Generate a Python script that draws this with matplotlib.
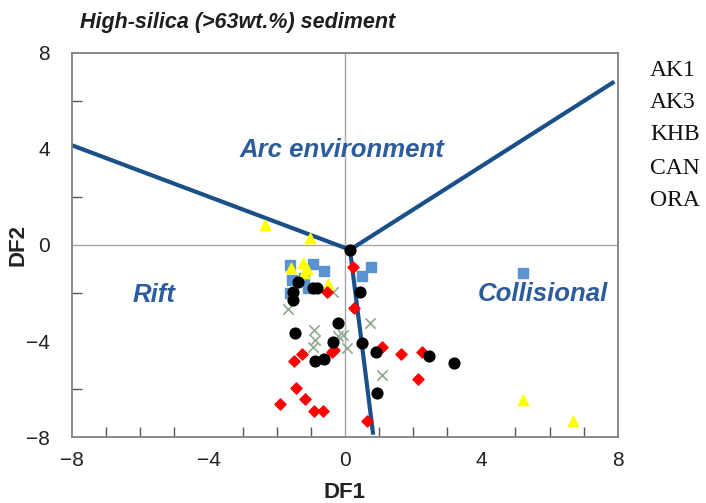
import matplotlib.pyplot as plt
from matplotlib import font_manager
from matplotlib.ticker import MultipleLocator

# discriminant function scores, one pair of lists per sample group
circle_x = [0.15, -1.37, -1.52, -1.52, -0.93, -0.83, 0.44, -0.2, -1.45, -0.34,
            0.51, 0.91, -0.88, -0.61, 2.46, 3.21, 0.93]
circle_y = [-0.21, -1.56, -1.94, -2.29, -1.78, -1.8, -1.97, -3.26, -3.68, -4.06,
            -4.1, -4.44, -4.83, -4.75, -4.61, -4.93, -6.15]

diamond_x = [0.24, -0.51, 0.27, -1.25, -1.49, -0.39, -0.31, 1.09, 1.64, 2.25,
             2.15, -1.42, -1.17, -1.91, -0.9, -0.65, 0.64]
diamond_y = [-0.9, -1.94, -2.61, -4.56, -4.83, -4.47, -4.38, -4.24, -4.56, -4.44,
             -5.56, -5.97, -6.43, -6.63, -6.92, -6.92, -7.33]

square_x = [-1.61, -0.93, -0.61, -1.56, -1.19, 0.78, 0.51, -1.61, -1.08, 5.21]
square_y = [-0.83, -0.81, -1.08, -1.46, -1.39, -0.93, -1.28, -2.01, -1.8, -1.15]

triangle_x = [-2.35, -1.03, -1.58, -1.22, -1.19, -0.49, -1.1, 5.23, 6.68]
triangle_y = [0.85, 0.28, -0.94, -0.76, -1.18, -1.64, -1.0, -6.46, -7.32]

cross_x = [-0.34, -1.66, -0.9, -0.88, -0.93, -0.05, 0.05, 0.73, 1.08, -0.2]
cross_y = [-1.94, -2.67, -3.54, -3.96, -4.24, -3.75, -4.31, -3.26, -5.42, -3.8]

# field boundaries: three arms from a common vertex
vertex = (0.15, -0.2)
arm_ends = [(-8.0, 4.15), (7.9, 6.8), (0.83, -7.9)]

sample_names = ["AK1", "AK3", "KHB", "CAN", "ORA"]

# narrow face for the title if there is one
installed = {f.name for f in font_manager.fontManager.ttflist}
if "Liberation Sans Narrow" in installed:
    title_family, title_size = "Liberation Sans Narrow", 18
else:
    title_family, title_size = "Liberation Sans", 15.5

fig = plt.figure(figsize=(7.06, 5.03), dpi=100)
ax = fig.add_axes([0.102, 0.131, 0.773, 0.764])

ax.axhline(0, color="#a6a6a6", lw=1.0, zorder=1)
ax.axvline(0, color="#a6a6a6", lw=1.0, zorder=1)

for ex, ey in arm_ends:
    ax.plot([vertex[0], ex], [vertex[1], ey], color="#1a5089", lw=3, zorder=2,
            solid_capstyle="butt")

ax.scatter(cross_x, cross_y, marker="x", s=55, color="#8fa88f", linewidths=1.2, zorder=3)
ax.scatter(square_x, square_y, marker="s", s=55, color="#5b93d0", zorder=3)
ax.scatter(triangle_x, triangle_y, marker="^", s=55, color="#ffff00", zorder=4)
ax.scatter(diamond_x, diamond_y, marker="D", s=32, color="#ff0000", zorder=4)
ax.scatter(circle_x, circle_y, marker="o", s=60, color="black", zorder=5)

field_style = dict(color="#2c5c9c", fontsize=18.5, fontweight="bold", fontstyle="italic",
                   family="Liberation Sans", ha="center", va="center")
ax.text(-0.1, 3.95, "Arc environment", **field_style)
ax.text(-5.6, -2.1, "Rift", **field_style)
ax.text(5.8, -2.05, "Collisional", **field_style)

ax.set_xlim(-8, 8)
ax.set_ylim(-8, 8)
ax.xaxis.set_minor_locator(MultipleLocator(1))
ax.yaxis.set_minor_locator(MultipleLocator(2))
ax.set_xticks([-8, -4, 0, 4, 8])
ax.set_yticks([-8, -4, 0, 4, 8])
ax.set_xticklabels(["\u22128", "\u22124", "0", "4", "8"], family="Liberation Sans")
ax.set_yticklabels(["\u22128", "\u22124", "0", "4", "8"], family="Liberation Sans")
ax.tick_params(which="both", direction="in", top=False, right=False,
               color="#555555", labelsize=15, labelcolor="#222222")
ax.tick_params(which="major", length=0, pad=10)
ax.tick_params(which="minor", length=7, width=1)
ax.tick_params(axis="y", which="major", pad=16)

for s in ax.spines.values():
    s.set_color("#808080")
    s.set_linewidth(1.3)

ax.set_xlabel("DF1", fontsize=16, fontweight="bold", family="Liberation Sans",
              color="#222222", labelpad=9)
ax.set_ylabel("DF2", fontsize=16, fontweight="bold", family="Liberation Sans",
              color="#222222", va="center")
ax.yaxis.set_label_coords(-0.099, 0.5)

fig.text(0.336, 0.955, "High-silica (>63wt.%) sediment", fontsize=title_size,
         fontweight="bold", fontstyle="italic", family=title_family, color="#1e1e1e",
         ha="center", va="center")

label_y = [0.859, 0.797, 0.732, 0.666, 0.602]
for name, yy in zip(sample_names, label_y):
    fig.text(0.921, yy, name, fontsize=17, family="Liberation Serif",
             color="#111111", ha="left", va="center")

fig.savefig("out.png", dpi=100)
